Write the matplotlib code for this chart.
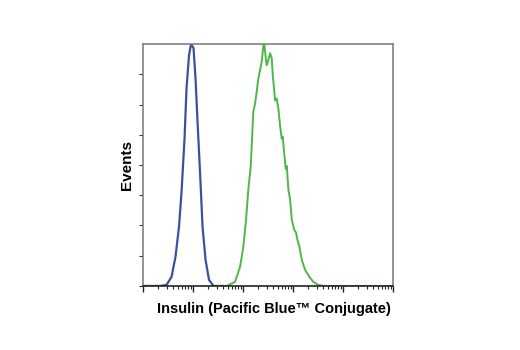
import matplotlib
matplotlib.use("Agg")
import matplotlib.pyplot as plt
import numpy as np

# log10 fluorescence positions and event counts
blue_log = [0.0, 0.2, 0.34, 0.47, 0.57, 0.65, 0.72, 0.77, 0.83, 0.87, 0.92, 0.96,
            1.01, 1.05, 1.09, 1.14, 1.19, 1.25, 1.32, 1.41, 1.6]
blue_cnt = [0, 0, 0, 1, 9, 29, 59, 93, 146, 196, 229, 240,
            236, 206, 163, 113, 59, 26, 6, 0, 0]

green_log = [1.5, 1.674, 1.84, 1.94, 2.006, 2.06, 2.106, 2.154, 2.186, 2.206, 2.24,
             2.274, 2.306, 2.34, 2.374, 2.406, 2.426, 2.454, 2.474, 2.506, 2.54,
             2.574, 2.594, 2.62, 2.64, 2.674, 2.706, 2.74, 2.774, 2.794, 2.82,
             2.854, 2.874, 2.906, 2.94, 2.974, 3.02, 3.06, 3.086, 3.126, 3.174,
             3.24, 3.326, 3.406, 3.506, 3.606, 5.0]
green_cnt = [0, 0, 4, 19, 39, 66, 96, 119, 153, 173, 181,
             193, 206, 214, 223, 238, 240, 226, 219, 224, 231,
             226, 209, 196, 184, 186, 176, 159, 146, 148, 133,
             116, 119, 96, 86, 66, 56, 53, 46, 39, 26,
             16, 9, 4, 1, 0, 0]

fig = plt.figure(figsize=(5.2, 3.5), dpi=100)
ax = fig.add_axes([0.275, 0.183, 0.481, 0.691])

ax.plot(10 ** np.array(blue_log), blue_cnt, color="#3b50a3", lw=1.6)
ax.plot(10 ** np.array(green_log), green_cnt, color="#4cb848", lw=1.4)

ax.set_xscale("log")
ax.set_xlim(1, 1e5)
ax.set_ylim(0, 240)
ax.set_yticks(np.arange(0, 240, 30))
ax.set_yticklabels([])
ax.set_xticklabels([], minor=True)
ax.set_xticklabels([])

for s in ["top", "right", "left"]:
    ax.spines[s].set_color("#808080")
    ax.spines[s].set_linewidth(1.2)
ax.spines["bottom"].set_color("#222222")
ax.spines["bottom"].set_linewidth(1.2)
ax.tick_params(axis="x", which="major", direction="out", length=4, width=1, color="#222222")
ax.tick_params(axis="x", which="minor", direction="out", length=2.5, width=0.8, color="#222222")
ax.tick_params(axis="y", direction="out", length=3, width=0.8, color="#333333")

font = ["Liberation Sans", "DejaVu Sans"]
ax.set_xlabel("Insulin (Pacific Blue™ Conjugate)", fontsize=10.5, fontweight="bold",
              family=font)
ax.xaxis.set_label_coords(0.525, -0.065, transform=ax.transAxes)
ax.xaxis.label.set_va("top")
ax.set_ylabel("Events", fontsize=11, fontweight="bold", family=font, labelpad=0)

fig.savefig("out.png", dpi=100)
